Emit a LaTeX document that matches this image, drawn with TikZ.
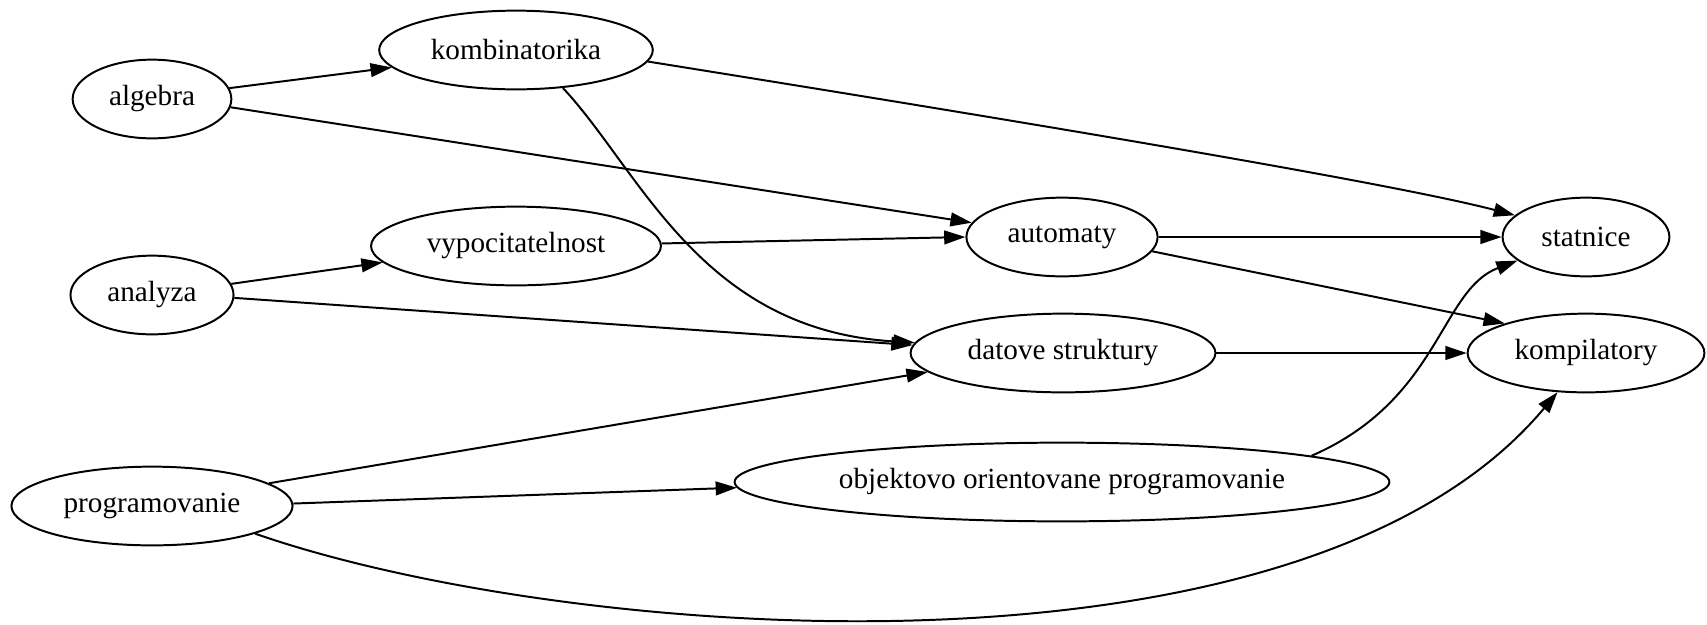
\documentclass[tikz,border=0pt]{standalone}
\usepackage{fontspec}
\setmainfont{Liberation Serif}
\usetikzlibrary{shapes.geometric,arrows.meta}
\tikzset{
  subject/.style={draw, ellipse, line width=0.9pt, inner sep=0pt, minimum height=1.26cm, font=\fontsize{13.3}{16}\selectfont},
  dep/.style={line width=0.9pt, -{Triangle[length=0.34cm,width=0.22cm]}}
}

\begin{document}
\begin{tikzpicture}[x=0.016cm, y=-0.016cm]
  \useasboundingbox (0,0) rectangle (1707,624);
  \node[subject, minimum width=2.54cm] (algebra) at (152,99) {algebra};
  \node[subject, minimum width=2.61cm] (analyza) at (152,295) {analyza};
  \node[subject, minimum width=4.50cm] (programovanie) at (152,506) {programovanie};
  \node[subject, minimum width=4.38cm] (kombinatorika) at (516,50) {kombinatorika};
  \node[subject, minimum width=4.64cm] (vypocitatelnost) at (516,246) {vypocitatelnost};
  \node[subject, minimum width=3.06cm] (automaty) at (1062,237) {automaty};
  \node[subject, minimum width=4.88cm] (datove) at (1063,353) {datove struktury};
  \node[subject, minimum width=10.48cm] (oop) at (1062,482) {objektovo orientovane programovanie};
  \node[subject, minimum width=2.67cm] (statnice) at (1586,237) {statnice};
  \node[subject, minimum width=3.79cm] (kompilatory) at (1586,353) {kompilatory};

  \draw[dep] (algebra.8) -- (kombinatorika.-172);
  \draw[dep] (algebra.-6.5) -- (automaty.171);
  \draw[dep] (kombinatorika.-5.5) .. controls (950,110) and (1380,180) .. (statnice.163);
  \draw[dep] (kombinatorika.-39) .. controls (640,170) and (700,330) .. (datove.176);
  \draw[dep] (analyza.8.4) -- (vypocitatelnost.-173);
  \draw[dep] (analyza.-2) -- (datove.177.4);
  \draw[dep] (vypocitatelnost.1) -- (automaty.180);
  \draw[dep] (automaty.east) -- (statnice.west);
  \draw[dep] (automaty.-9) -- (kompilatory.160);
  \draw[dep] (datove.east) -- (kompilatory.west);
  \draw[dep] (programovanie.11) -- (datove.-172);
  \draw[dep] (programovanie.1.6) -- (oop.-179);
  \draw[dep] (programovanie.-15) .. controls (560,640) and (1300,700) .. (kompilatory.-126.6);
  \draw[dep] (oop.6.6) .. controls (1440,400) and (1440,290) .. (statnice.-161.3);
\end{tikzpicture}
\end{document}
